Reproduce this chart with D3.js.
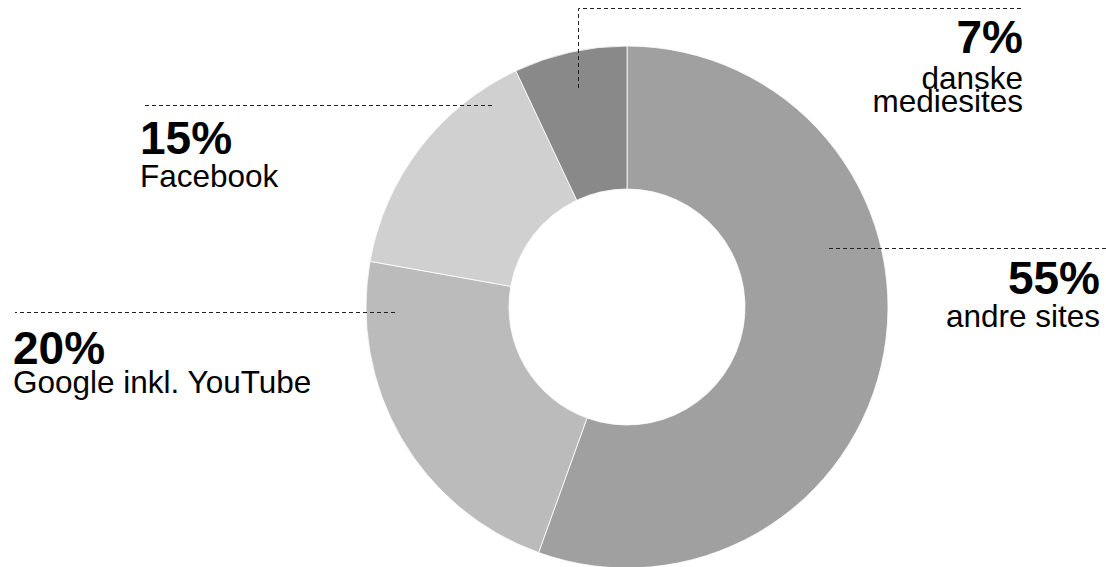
<!DOCTYPE html>
<html>
<head>
<meta charset="utf-8">
<script src="https://cdn.jsdelivr.net/npm/d3@7/dist/d3.min.js"></script>
<style>
  html, body { margin: 0; padding: 0; background: #fff; }
  svg { display: block; font-family: "Liberation Sans", Arial, sans-serif; }
  .pct { font-weight: bold; font-size: 46px; fill: #000; }
  .name { font-size: 31.5px; fill: #000; }
  .lead { fill: none; stroke: #222; stroke-width: 1; stroke-dasharray: 4 3; }
</style>
</head>
<body>
<div id="chart"></div>
<script>
// slices, clockwise from 12 o'clock (arc sizes)
const categories = ["andre sites", "Google inkl. YouTube", "Facebook", "danske mediesites"];
const shares = [55.5, 22.3, 15.2, 7.0];
const pctLabels = ["55%", "20%", "15%", "7%"];
const colors = ["#a0a0a0", "#bbbbbb", "#d0d0d0", "#898989"];

const W = 1106, H = 567;
const cx = 627, cy = 307, R = 261, r0 = 118;

const svg = d3.select("#chart").append("svg")
  .attr("width", W).attr("height", H);

const pie = d3.pie().sort(null).value((d) => d);
const arc = d3.arc().innerRadius(r0).outerRadius(R);

svg.append("g").attr("transform", `translate(${cx},${cy})`)
  .selectAll("path").data(pie(shares)).join("path")
  .attr("d", arc)
  .attr("fill", (d, i) => colors[i])
  .attr("stroke", "#fff")
  .attr("stroke-width", 0.8);

// annotation layout: leader polyline, text anchor, text x, baselines, name lines
const notes = [
  { line: [[829, 248.5], [1106, 248.5]], anchor: "end", x: 1100, y: 294, lines: ["andre sites"], dy: 33 },
  { line: [[395, 312.5], [15, 312.5]], anchor: "start", x: 13, y: 364, lines: ["Google inkl. YouTube"], dy: 29 },
  { line: [[492, 105.5], [142, 105.5]], anchor: "start", x: 140, y: 154, lines: ["Facebook"], dy: 33 },
  { line: [[578.5, 88], [578.5, 8.5], [1022, 8.5]], anchor: "end", x: 1023, y: 53, lines: ["danske", "mediesites"], dy: 36, lh: 23 },
];

const g = svg.append("g");
notes.forEach((n, i) => {
  g.append("path").attr("class", "lead").attr("d", d3.line()(n.line));
  g.append("text").attr("class", "pct")
    .attr("x", n.x).attr("y", n.y).attr("text-anchor", n.anchor)
    .text(pctLabels[i]);
  n.lines.forEach((t, j) => {
    g.append("text").attr("class", "name")
      .attr("x", n.x).attr("y", n.y + n.dy + j * (n.lh || 0))
      .attr("text-anchor", n.anchor)
      .text(t);
  });
});
</script>
</body>
</html>
